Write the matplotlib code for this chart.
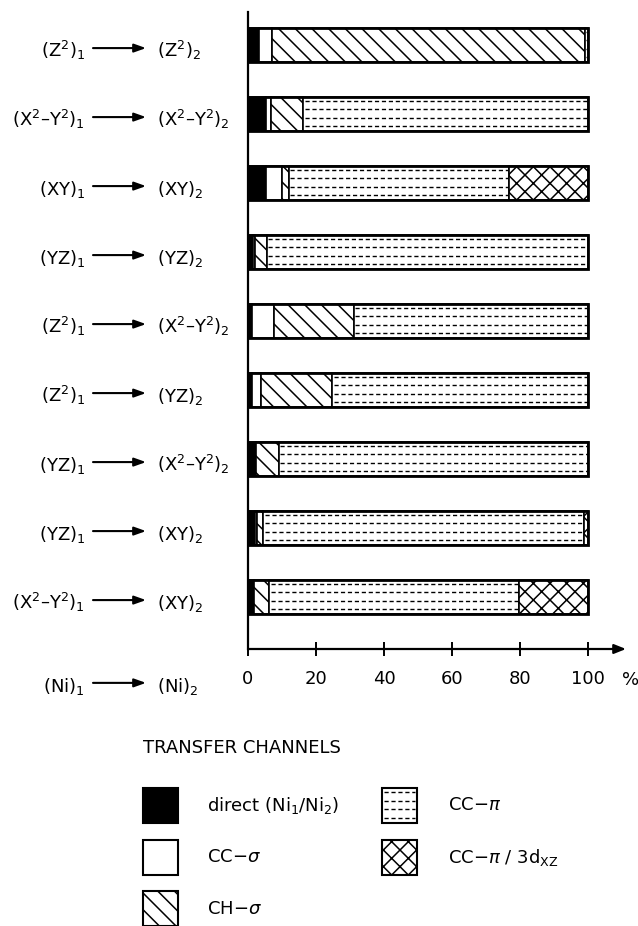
"""Charge-transfer channels between the Ni d orbitals of the two centres."""

import matplotlib
matplotlib.use("Agg")
import matplotlib.pyplot as plt
import matplotlib.transforms as mtransforms
from matplotlib.patches import Rectangle
import numpy as np

plt.rcParams["font.family"] = "DejaVu Sans"
plt.rcParams["mathtext.fontset"] = "dejavusans"
plt.rcParams["hatch.linewidth"] = 1.1

W, H = 638, 926  # figure size in pixels at dpi 100

# Orbital pairs, top to bottom.
donor = [r"(Z$^2$)$_1$", r"(X$^2$–Y$^2$)$_1$", r"(XY)$_1$", r"(YZ)$_1$",
         r"(Z$^2$)$_1$", r"(Z$^2$)$_1$", r"(YZ)$_1$", r"(YZ)$_1$",
         r"(X$^2$–Y$^2$)$_1$"]
acceptor = [r"(Z$^2$)$_2$", r"(X$^2$–Y$^2$)$_2$", r"(XY)$_2$", r"(YZ)$_2$",
            r"(X$^2$–Y$^2$)$_2$", r"(YZ)$_2$", r"(X$^2$–Y$^2$)$_2$",
            r"(XY)$_2$", r"(XY)$_2$"]

# Share of each transfer channel, in %.
direct = [3.2, 5.3, 5.3, 1.5, 1.3, 1.2, 2.3, 2.0, 1.8]
cc_sigma = [3.8, 1.5, 4.7, 0.5, 6.3, 2.6, 0.0, 0.6, 0.0]
ch_sigma = [92.0, 9.4, 2.0, 3.5, 23.5, 21.0, 6.7, 1.8, 4.4]
cc_pi = [1.0, 83.8, 64.8, 94.5, 68.9, 75.2, 91.0, 94.4, 73.6]
cc_pi_3d = [0.0, 0.0, 23.2, 0.0, 0.0, 0.0, 0.0, 1.2, 20.2]

xticks = [0, 20, 40, 60, 80, 100]

# (values, patch style, dashed fill?, legend label)
channels = [
    (direct, dict(facecolor="black"), False, r"direct (Ni$_1$/Ni$_2$)"),
    (cc_sigma, dict(facecolor="white"), False, r"CC$-\sigma$"),
    (ch_sigma, dict(facecolor="white", hatch="\\\\"), False, r"CH$-\sigma$"),
    (cc_pi, dict(facecolor="white"), True, r"CC$-\pi$"),
    (cc_pi_3d, dict(facecolor="white", hatch="xx"), False,
     r"CC$-\pi$ / 3d$_{\mathrm{XZ}}$"),
]

DASH = (0, (3, 2))
dash_rows = np.array([0.11, 0.36, 0.61, 0.86])  # fractions of bar height

fig = plt.figure(figsize=(W / 100, H / 100), dpi=100)
ax = fig.add_axes([248 / W, 1 - 649 / H, (626 - 248) / W, (649 - 12) / H])

ypos = np.arange(len(donor))
bar_h = 0.5
left = np.zeros(len(donor))
for vals, style, dashed, _ in channels:
    vals = np.asarray(vals, dtype=float)
    m = vals > 0
    ax.barh(ypos[m], vals[m], left=left[m], height=bar_h,
            edgecolor="black", linewidth=1.2, **style)
    if dashed:
        # CC-pi segments get rows of short dashes
        for y, x0, w in zip(ypos[m], left[m], vals[m]):
            rows = y - bar_h / 2 + bar_h * dash_rows
            ax.hlines(rows, x0 + 0.5, x0 + w - 0.3, colors="black",
                      linestyles=[DASH], linewidth=1.0)
    left += vals

# heavy outline round each full bar
ax.barh(ypos, left, height=bar_h, fill=False, edgecolor="black", linewidth=2.0)

ax.set_xlim(0, 378 / 3.4)
ax.set_ylim(8.754, -0.478)
for s in ("top", "right", "bottom"):
    ax.spines[s].set_visible(False)
ax.spines["left"].set_linewidth(1.6)
ax.set_yticks([])
ax.set_xticks(xticks)
ax.set_xticklabels([str(t) for t in xticks])
ax.tick_params(axis="x", direction="inout", length=10, width=1.4,
               pad=10, labelsize=13)
ax.annotate("", xy=(1, 0), xytext=(0, 0), xycoords="axes fraction",
            arrowprops=dict(arrowstyle="-|>,head_length=0.7,head_width=0.28",
                            lw=1.6, color="black", shrinkA=0, shrinkB=0))
fig.text(631 / W, 1 - 685 / H, "%", fontsize=13, ha="center", va="baseline")

# row labels: donor -> acceptor, plus the Ni row level with the x axis
trans = mtransforms.blended_transform_factory(fig.transFigure, ax.transData)
rows = list(zip(ypos, donor, acceptor)) + [(9.2, r"(Ni)$_1$", r"(Ni)$_2$")]
for y, a, b in rows:
    ax.text(85 / W, y + 0.17, a, transform=trans, ha="right", va="baseline",
            fontsize=13, clip_on=False)
    ax.text(157 / W, y + 0.17, b, transform=trans, ha="left", va="baseline",
            fontsize=13, clip_on=False)
    ax.annotate("", xy=(146 / W, y + 0.045), xytext=(93 / W, y + 0.045),
                xycoords=trans, textcoords=trans, annotation_clip=False,
                arrowprops=dict(arrowstyle="-|>,head_length=0.7,head_width=0.25",
                                lw=1.5, color="black", shrinkA=0, shrinkB=0))

# legend drawn by hand in pixel coordinates
lg = fig.add_axes([0, 0, 1, 1])
lg.set_xlim(0, W)
lg.set_ylim(H, 0)
lg.axis("off")
lg.text(143, 748, "TRANSFER CHANNELS", fontsize=13, ha="left", va="center")

box = 35
slots = [(143, 788), (143, 840), (143, 891), (382, 788), (382, 840)]
for (x0, y0), (vals, style, dashed, label) in zip(slots, channels):
    lg.add_patch(Rectangle((x0, y0), box, box, edgecolor="black",
                           linewidth=1.5, **style))
    if dashed:
        lg.hlines(y0 + box * dash_rows, x0 + 2, x0 + box - 2, colors="black",
                  linestyles=[DASH], linewidth=1.0)
    tx = 207 if x0 < 300 else 448
    lg.text(tx, y0 + box / 2, label, fontsize=13, ha="left", va="center")

fig.savefig("out.png", dpi=100)
